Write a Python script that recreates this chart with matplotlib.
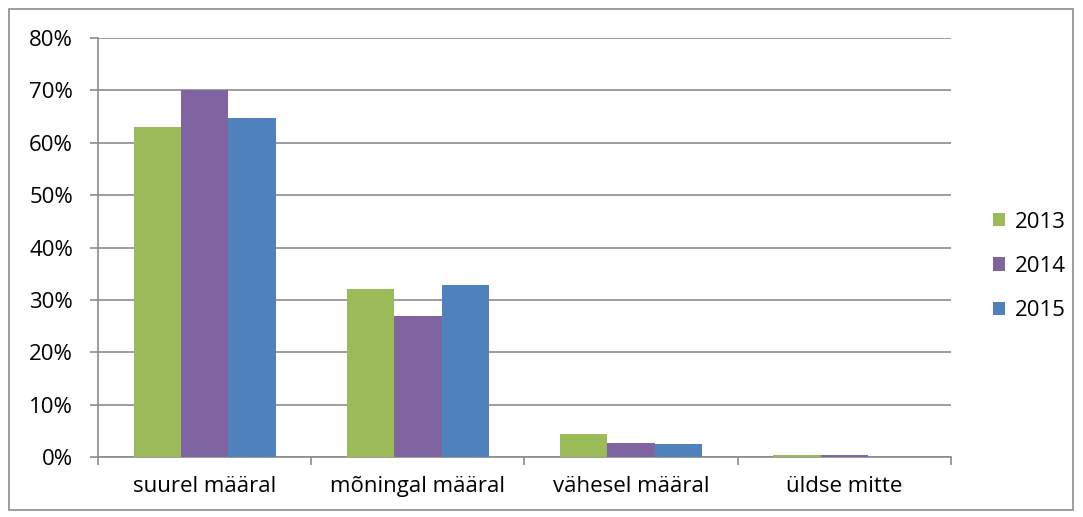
import numpy as np
import matplotlib.pyplot as plt
from matplotlib.patches import Rectangle

categories = ["suurel määral", "mõningal määral", "vähesel määral", "üldse mitte"]
years = ["2013", "2014", "2015"]
v2013 = [63.0, 32.1, 4.4, 0.3]
v2014 = [70.0, 26.9, 2.6, 0.4]
v2015 = [64.7, 32.8, 2.4, 0.0]
colors = ["#9bbb59", "#8064a2", "#4f81bd"]

plt.rcParams['font.family'] = ['Open Sans', 'DejaVu Sans']

fig = plt.figure(figsize=(10.83, 5.17), dpi=100)
ax = fig.add_axes([0.0905, 0.116, 0.7875, 0.8105])

x = np.arange(len(categories))
w = 0.222
for i, (vals, c, lab) in enumerate(zip([v2013, v2014, v2015], colors, years)):
    ax.bar(x + (i - 1) * w, vals, width=w, color=c, label=lab, zorder=3)

fs = 16
ax.set_xlim(-0.5, len(categories) - 0.5)
ax.set_ylim(0, 80)
ax.set_yticks(range(0, 81, 10))
ax.set_yticklabels([f"{t}%" for t in range(0, 81, 10)], fontsize=fs)
ax.yaxis.grid(True, color="#8c8c8c", linewidth=1.2, zorder=0)

ax.set_xticks(x)
ax.set_xticklabels(categories, fontsize=fs)
ax.set_xticks(np.arange(-0.5, len(categories)), minor=True)
ax.tick_params(axis='x', which='major', length=0, pad=14)
ax.tick_params(axis='x', which='minor', length=6, color="#8c8c8c", width=1.2)
ax.tick_params(axis='y', length=6, color="#8c8c8c", width=1.2, pad=12)

for s in ['top', 'right']:
    ax.spines[s].set_visible(False)
for s in ['left', 'bottom']:
    ax.spines[s].set_color("#8c8c8c")
    ax.spines[s].set_linewidth(1.2)

ax.legend(loc='center left', bbox_to_anchor=(1.026, 0.455), frameon=False,
          fontsize=fs, handlelength=0.55, handleheight=0.55, handletextpad=0.45,
          labelspacing=1.05)

fig.patches.append(Rectangle((9 / 1083, 1 - 510 / 517), 1064 / 1083, 501 / 517,
                             transform=fig.transFigure, fill=False,
                             edgecolor="#8c8c8c", linewidth=1.2))

fig.savefig("out.png", dpi=100)
